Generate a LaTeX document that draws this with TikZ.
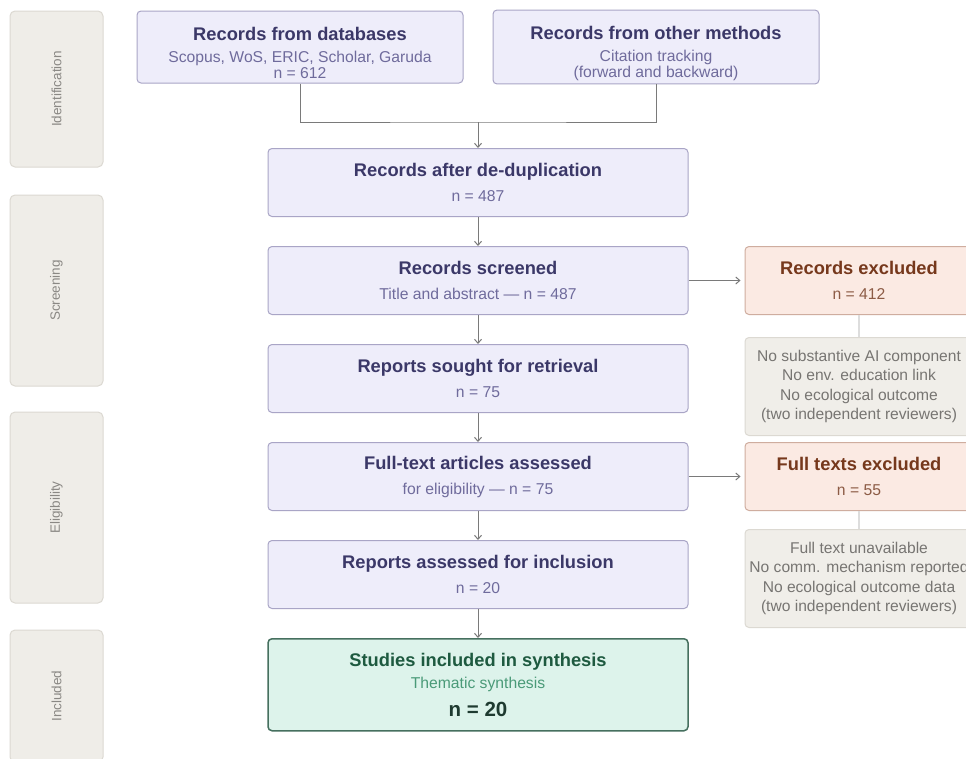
\documentclass[tikz,border=0pt]{standalone}
\usepackage{fontspec}
\setmainfont{Liberation Sans}
\usetikzlibrary{arrows.meta, positioning}

\definecolor{stagefill}{HTML}{EEEDFA}
\definecolor{stageline}{HTML}{A9A5C6}
\definecolor{stagetitle}{HTML}{3B3868}
\definecolor{stagesub}{HTML}{6F6B9C}
\definecolor{exclfill}{HTML}{FBEAE3}
\definecolor{exclline}{HTML}{CFAD9F}
\definecolor{excltitle}{HTML}{76381C}
\definecolor{exclsub}{HTML}{8C5B45}
\definecolor{notefill}{HTML}{F0EEE9}
\definecolor{noteline}{HTML}{DCD9D2}
\definecolor{notetext}{HTML}{777572}
\definecolor{inclfill}{HTML}{DDF3EB}
\definecolor{inclline}{HTML}{46705F}
\definecolor{incltitle}{HTML}{1E5A40}
\definecolor{inclsub}{HTML}{4A9A78}
\definecolor{inclnum}{HTML}{1E3A30}
\definecolor{phasefill}{HTML}{EFEDE8}
\definecolor{phaseline}{HTML}{DCD9D2}
\definecolor{phasetext}{HTML}{8A8884}
\definecolor{arrowgray}{HTML}{7A7A7A}
\definecolor{notelink}{HTML}{DDDDDD}

\newcommand{\stagehead}[1]{{\color{stagetitle}\bfseries\fontsize{18.3}{16}\selectfont #1}}
\newcommand{\exclhead}[1]{{\color{excltitle}\bfseries\fontsize{18.3}{16}\selectfont #1}}

\begin{document}
\begin{tikzpicture}[x=1pt, y=-1pt,
    stage/.style={rectangle, draw=stageline, fill=stagefill, line width=1pt, rounded corners=4pt, minimum width=420pt, minimum height=68pt, align=center, text=stagesub, font=\fontsize{15.7}{16}\selectfont},
    source/.style={stage, minimum width=326pt, minimum height=72pt},
    excl/.style={stage, draw=exclline, fill=exclfill, text=exclsub, minimum width=228pt},
    note/.style={rectangle, draw=noteline, fill=notefill, line width=1pt, rounded corners=4pt, minimum width=228pt, minimum height=98pt, align=center, text=notetext, font=\fontsize{15.6}{19.5}\selectfont},
    incl/.style={stage, draw=inclline, fill=inclfill, line width=1.5pt, text=inclsub, minimum height=92pt},
    phase/.style={rectangle, draw=phaseline, fill=phasefill, line width=1pt, rounded corners=5pt, rotate=90, minimum height=93pt, text=phasetext, font=\fontsize{13.5}{14}\selectfont},
    arrow/.style={->, >={Straight Barb[length=4pt, width=7pt]}, draw=arrowgray, line width=1pt},
    link/.style={draw=arrowgray, line width=1pt}]

    \clip (0,0) rectangle (966,758);
    \fill[white] (0,0) rectangle (966,758);

    % phases
    \node[phase, minimum width=156pt] (ident) at (56.5,89) {Identification};
    \node[phase, minimum width=191pt] (screening) at (56.5,290.5) {Screening};
    \node[phase, minimum width=191pt] (eligib) at (56.5,507.5) {Eligibility};
    \node[phase, minimum width=132pt] (included) at (56.5,696) {Included};

    % identification
    \node[source] (db) at (300,47) {\rule{0pt}{26pt}\stagehead{Records from databases}\\[6pt] Scopus, WoS, ERIC, Scholar, Garuda\\ n = 612};
    \node[source] (other) at (656,47) {\rule{0pt}{26pt}\stagehead{Records from other methods}\\[6pt] Citation tracking\\ (forward and backward)};

    % main column
    \node[stage] (dedup) at (478,182.5) {\stagehead{Records after de-duplication}\\[9pt] n = 487};
    \node[stage, below=29pt of dedup] (screen) {\stagehead{Records screened}\\[9pt] Title and abstract --- n = 487};
    \node[stage, below=29pt of screen] (sought) {\stagehead{Reports sought for retrieval}\\[9pt] n = 75};
    \node[stage, below=29pt of sought] (fulltext) {\stagehead{Full-text articles assessed}\\[9pt] for eligibility --- n = 75};
    \node[stage, below=29pt of fulltext] (assessed) {\stagehead{Reports assessed for inclusion}\\[9pt] n = 20};
    \node[incl, below=29pt of assessed] (synth) {{\color{incltitle}\bfseries\fontsize{18.3}{16}\selectfont Studies included in synthesis}\\[6pt] Thematic synthesis\\[9pt] {\color{inclnum}\bfseries\fontsize{20.5}{16}\selectfont n = 20}};

    % exclusions
    \node[excl, right=56pt of screen] (recexcl) {\exclhead{Records excluded}\\[9pt] n = 412};
    \node[note, below=22pt of recexcl] (recwhy) {No substantive AI component\\ No env. education link\\ No ecological outcome\\ (two independent reviewers)};
    \node[excl, right=56pt of fulltext] (ftexcl) {\exclhead{Full texts excluded}\\[9pt] n = 55};
    \node[note, below=18pt of ftexcl] (ftwhy) {Full text unavailable\\ No comm. mechanism reported\\ No ecological outcome data\\ (two independent reviewers)};

    % connectors
    \coordinate (join) at (478,122);
    \draw[link] (db.south) |- (join) -| (other.south);
    \draw[arrow] (join) -- (dedup);
    \draw[arrow] (dedup) -- (screen);
    \draw[arrow] (screen) -- (sought);
    \draw[arrow] (sought) -- (fulltext);
    \draw[arrow] (fulltext) -- (assessed);
    \draw[arrow] (assessed) -- (synth);
    \draw[arrow, shorten >=4pt] (screen) -- (recexcl);
    \draw[arrow, shorten >=4pt] (fulltext) -- (ftexcl);
    \draw[notelink, line width=2pt] (recexcl) -- (recwhy);
    \draw[notelink, line width=2pt] (ftexcl) -- (ftwhy);
\end{tikzpicture}
\end{document}
